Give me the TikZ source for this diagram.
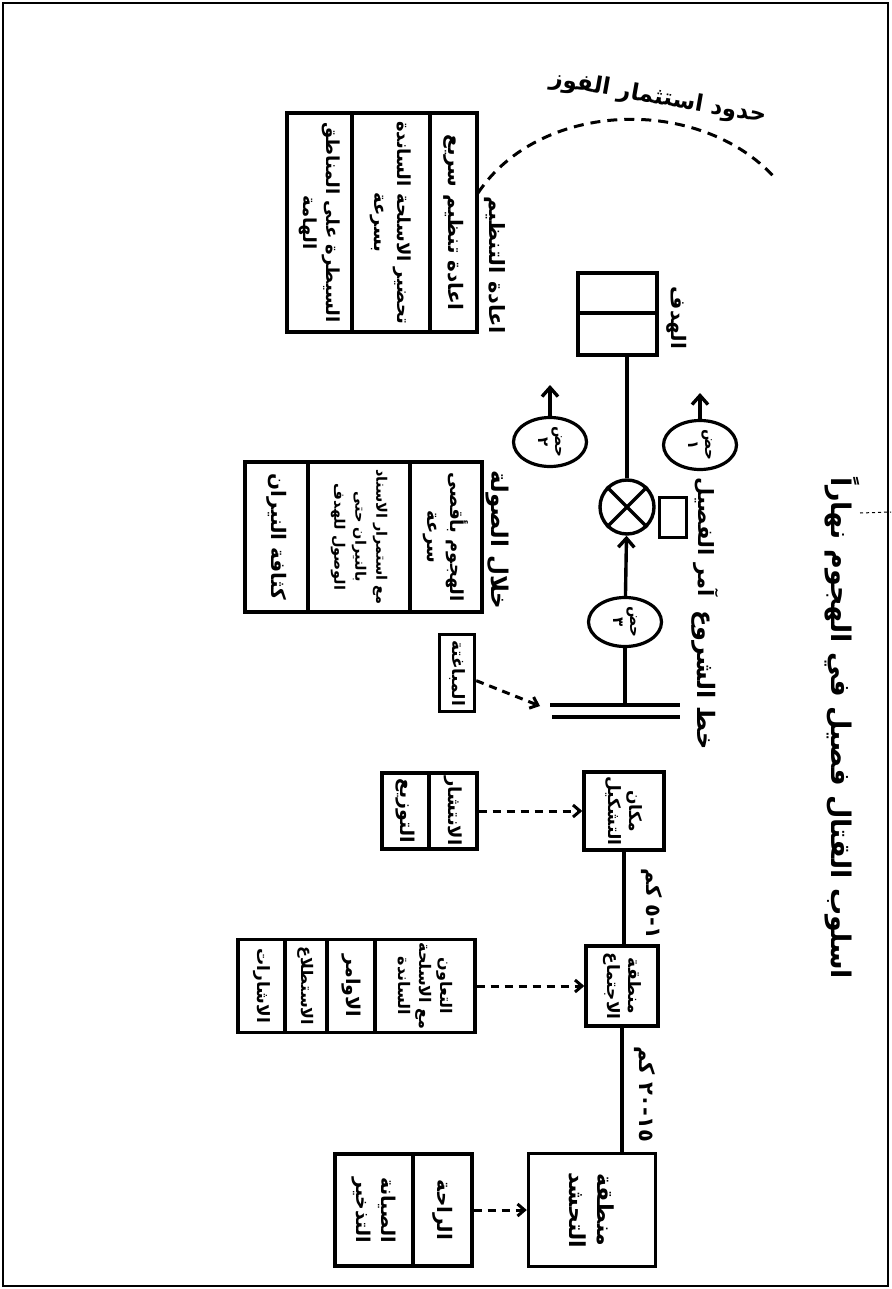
\documentclass[tikz,border=0pt]{standalone}
\usepackage{fontspec}
\newfontfamily\arabicfont[Script=Arabic]{DejaVu Sans}
\TeXXeTstate=1
\usetikzlibrary{arrows.meta,shapes.geometric}
\newcommand{\ar}[1]{\beginR #1\endR}
\newcommand{\fs}[2]{\arabicfont\bfseries\fontsize{#1}{#2}\selectfont}

\tikzset{every picture/.style={line width=3.4pt}}
\tikzset{
  box/.style={draw, line width=3.4pt, rotate=-90, inner sep=1pt, align=center, font=\fs{17}{21}},
  lbl/.style={rotate=-90, inner sep=1pt, align=center, font=\fs{22}{27}},
  oval/.style={draw, ellipse, line width=3.2pt, rotate=-90, inner sep=0pt, align=center, minimum width=49pt, minimum height=73pt, font=\fs{15}{17}},
  fwd/.style={-{Straight Barb[length=9pt,width=16pt]}},
  dasharrow/.style={line width=3pt, dash pattern=on 8pt off 6pt, -{Straight Barb[length=7pt,width=12pt]}},
}

\begin{document}
\begin{tikzpicture}[x=1pt,y=1pt,yscale=-1,xscale=1]
\useasboundingbox (0,0) rectangle (891,1289);

%Frame
\draw [line width=1.5pt] (3,3) rectangle (888,1286);

% Title
\node [lbl, font=\fs{27}{32}] (title) at (842,728) {\ar{اسلوب القتال فصيل في الهجوم نهاراً}};
\coordinate (tailstart) at (860,513);
\coordinate (tailend) at (891,512);
\draw [dashed, line width=1pt] (tailstart) -- (tailend);

%Stage: assembly area
\node [box, minimum width=113pt, minimum height=127pt, font=\fs{22}{28}] (tahashud) at (592,1210) {\ar{منطقة}\\\ar{التحشد}};
\node [box, minimum width=112pt, minimum height=59pt, font=\fs{20}{25}] (raha) at (442.5,1210) {\ar{الراحة}};
\node [box, minimum width=112pt, minimum height=78pt, font=\fs{19}{25}] (siyana) at (374,1210) {\ar{الصيانة}\\\ar{التذخير}};
\draw [dasharrow] (raha) -- (tahashud);

%Stage: meeting area
\node [box, minimum width=80pt, minimum height=72pt] (ijtima) at (622,986) {\ar{منطقة}\\\ar{الاجتماع}};
\node [box, minimum width=93pt, minimum height=100pt, font=\fs{16}{21}] (taawun) at (425,986) {\ar{التعاون}\\\ar{مع الاسلحة}\\\ar{الساندة}};
\node [box, minimum width=93pt, minimum height=48pt, font=\fs{19}{23}] (awamir) at (351,986) {\ar{الاوامر}};
\node [box, minimum width=93pt, minimum height=42pt, font=\fs{16}{20}] (istitla) at (306,986) {\ar{الاستطلاع}};
\node [box, minimum width=93pt, minimum height=47pt, font=\fs{17}{21}] (ishara) at (261.5,986) {\ar{الاشارات}};
\draw [dasharrow] (taawun) -- (ijtima);
\draw (ijtima.east) -- (ijtima.east |- tahashud.west);
% Text Node
\node [lbl, font=\fs{21}{25}] (dist1) at (645,1094) {\ar{\beginL١٥\endL-\beginL٢٠\endL{} كم}};

%Stage: deployment place
\node [box, minimum width=78pt, minimum height=80pt] (tashkil) at (624,811) {\ar{مكان}\\\ar{التشكيل}};
\node [box, minimum width=76pt, minimum height=48pt, font=\fs{18}{22}] (intishar) at (453,811) {\ar{الانتشار}};
\node [box, minimum width=76pt, minimum height=47pt, font=\fs{19}{23}] (tawzi) at (405.5,811) {\ar{التوزيع}};
\draw [dasharrow] (intishar) -- (tashkil);
\draw (tashkil.east) -- (tashkil.east |- ijtima.west);
% Text Node
\node [lbl, font=\fs{21}{25}] (dist2) at (652,904) {\ar{١-٥ كم}};

%Line of departure
\coordinate (shw) at (550,705);
\coordinate (she) at (680,705);
\coordinate (shw2) at (552,717);
\coordinate (she2) at (680,717);
\coordinate (ldm) at (625,705);
\coordinate (shtip) at (540,706);
\draw (shw) -- (she);
\draw (shw2) -- (she2);
\node [lbl, font=\fs{24}{29}] (shuru) at (704,680) {\ar{خط الشروع}};
\node [box, minimum width=77pt, minimum height=35pt] (mubaghata) at (457,673) {\ar{المباغتة}};
\draw [dasharrow] (mubaghata) -- (shtip);

%Sections and platoon commander
\node [oval] (sq3) at (625,622) {\ar{حض}\\\ar{٣}};
\node [draw, circle, minimum size=54pt, inner sep=0pt, line width=3.4pt] (mark) at (627,507) {};
\draw (mark.north west) -- (mark.south east);
\draw (mark.north east) -- (mark.south west);
\draw (ldm) -- (sq3);
\draw [fwd] (sq3) -- (mark);
\node [draw, line width=3pt, minimum width=27pt, minimum height=40pt] (amirbox) at (673,517) {};
\node [lbl, font=\fs{21}{25}] (amir) at (706,537) {\ar{آمر الفصيل}};

\node [oval] (sq2) at (550,442) {\ar{حض}\\\ar{٢}};
\node [oval] (sq1) at (700,445) {\ar{حض}\\\ar{١}};
\coordinate (sq2tip) at (550,385);
\coordinate (sq1tip) at (700,393);
\draw [fwd] (sq2) -- (sq2tip);
\draw [fwd] (sq1) -- (sq1tip);

%During the assault
\node [lbl, font=\fs{23}{28}] (sawla) at (497,540) {\ar{خلال الصولة}};
\node [box, minimum width=150pt, minimum height=72pt, font=\fs{18}{23}] (ikhtiraq) at (446,537) {\ar{الهجوم بأقصى}\\\ar{سرعة}};
\node [box, minimum width=150pt, minimum height=102pt, font=\fs{14.5}{21}] (isnad) at (359,537) {\ar{مع استمرار الاسناد}\\\ar{بالنيران حتى}\\\ar{الوصول للهدف}};
\node [box, minimum width=150pt, minimum height=63pt, font=\fs{20}{25}] (kathafa) at (276.5,537) {\ar{كثافة النيران}};

%Objective
\node [draw, line width=3.4pt, minimum width=79pt, minimum height=40pt] (hadaf1) at (617.5,293) {};
\node [draw, line width=3.4pt, minimum width=79pt, minimum height=42pt] (hadaf2) at (617.5,334) {};
\draw (mark) -- (mark |- hadaf2.south);
\node [lbl, font=\fs{20}{25}] (hadaf) at (677,318) {\ar{الهدف}};

%Reorganisation
\node [lbl, font=\fs{21}{25}] (tanzim) at (495,265) {\ar{اعادة التنظيم}};
\node [box, minimum width=219pt, minimum height=47pt, font=\fs{20}{25}] (sari) at (453.5,222.5) {\ar{اعادة تنظيم سريع}};
\node [box, minimum width=219pt, minimum height=78pt, font=\fs{18}{23}] (tahdir) at (391,222.5) {\ar{تحضير الاسلحة الساندة}\\\ar{بسرعة}};
\node [box, minimum width=219pt, minimum height=65pt, font=\fs{18}{23}] (saytara) at (319.5,222.5) {\ar{السيطرة على المناطق}\\\ar{الهامة}};

%Limit of exploitation
\coordinate (arcstart) at (478,193);
\coordinate (arcend) at (775,178);
\draw [dash pattern=on 10pt off 7pt, line width=3pt] (arcstart) .. controls (540,100) and (700,95) .. (arcend);
\node [font=\fs{23}{28}, rotate=-10, inner sep=1pt] (hudud) at (658,98) {\ar{حدود استثمار الفوز}};

\end{tikzpicture}
\end{document}
